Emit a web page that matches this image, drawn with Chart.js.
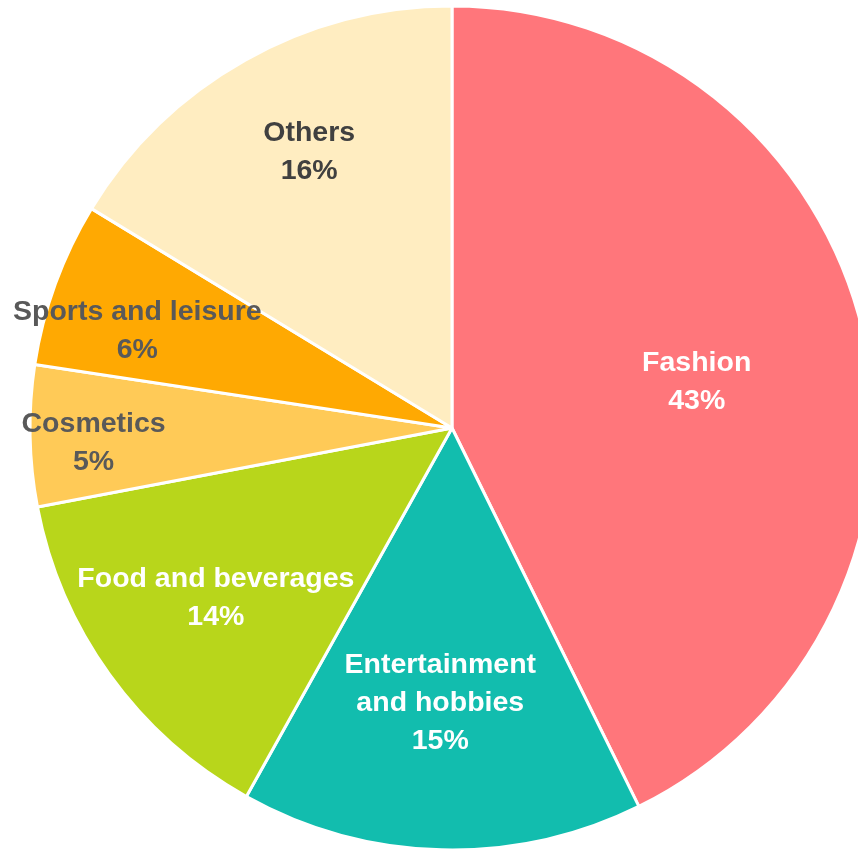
<!DOCTYPE html>
<html>
<head>
<meta charset="utf-8">
<script src="https://cdn.jsdelivr.net/npm/chart.js@4.4.0/dist/chart.umd.min.js"></script>
<style>
  html, body { margin: 0; padding: 0; background: #ffffff; overflow: hidden; width: 858px; height: 851px; }
  #wrap { position: absolute; left: 0; top: 0; width: 904px; height: 856px; }
</style>
</head>
<body>
<div id="wrap"><canvas id="c"></canvas></div>
<script>
const categories = ["Fashion", "Entertainment and hobbies", "Food and beverages", "Cosmetics", "Sports and leisure", "Others"];
const labelLines = [["Fashion"], ["Entertainment", "and hobbies"], ["Food and beverages"], ["Cosmetics"], ["Sports and leisure"], ["Others"]];
const shares = [42.7, 15.4, 13.9, 5.4, 6.3, 16.3];
const colors = ["#FF767B", "#12BDAE", "#B8D61B", "#FFCA57", "#FFA902", "#FFEDC1"];
const textColors = ["#FFFFFF", "#FFFFFF", "#FFFFFF", "#595959", "#595959", "#404040"];
const labelRadius = [0.59, 0.652, 0.69, 0.85, 0.78, 0.737];
const labelAngleShift = [2.5, 1.0, 0, -1.3, -2.9, 2.0];

const sliceLabels = {
  id: 'sliceLabels',
  afterDatasetsDraw(chart) {
    const ctx = chart.ctx;
    const meta = chart.getDatasetMeta(0);
    const total = shares.reduce((a, b) => a + b, 0);
    ctx.save();
    ctx.font = 'bold 28.5px "Liberation Sans", Arial, sans-serif';
    ctx.textAlign = 'center';
    ctx.textBaseline = 'middle';
    meta.data.forEach((arc, i) => {
      const p = arc.getProps(['x', 'y', 'startAngle', 'endAngle', 'outerRadius'], true);
      const mid = (p.startAngle + p.endAngle) / 2 + labelAngleShift[i] * Math.PI / 180;
      const r = p.outerRadius * labelRadius[i];
      const cx = p.x + Math.cos(mid) * r;
      const cy = p.y + Math.sin(mid) * r;
      const lines = labelLines[i].concat([Math.round(shares[i] / total * 100) + '%']);
      const lh = 38;
      const y0 = cy - (lines.length - 1) * lh / 2;
      ctx.fillStyle = textColors[i];
      lines.forEach((t, k) => ctx.fillText(t, cx, y0 + k * lh));
    });
    ctx.restore();
  }
};

new Chart(document.getElementById('c'), {
  type: 'pie',
  data: {
    labels: categories,
    datasets: [{
      data: shares,
      backgroundColor: colors,
      borderColor: '#FFFFFF',
      borderWidth: 3,
      radius: 422
    }]
  },
  options: {
    responsive: true,
    maintainAspectRatio: false,
    animation: false,
    layout: { padding: 0 },
    plugins: {
      legend: { display: false },
      tooltip: { enabled: false },
      title: { display: false }
    }
  },
  plugins: [sliceLabels]
});
</script>
</body>
</html>
